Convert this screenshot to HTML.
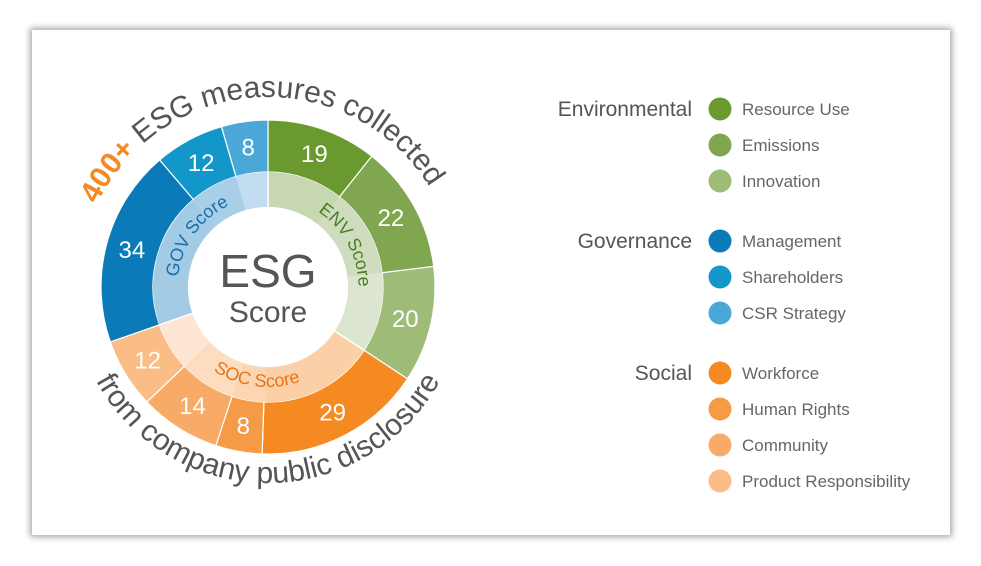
<!DOCTYPE html>
<html><head><meta charset="utf-8"><style>
html,body{margin:0;padding:0;background:#fff;}
body{width:981px;height:566px;position:relative;overflow:hidden;font-family:"Liberation Sans",sans-serif;}
#card{position:absolute;left:32px;top:30px;width:918px;height:505px;background:#fff;box-shadow:0 0 6px 2px rgba(0,0,0,0.35);}
svg{position:absolute;left:0;top:0;}
</style></head><body>
<div id="card"></div>
<svg id="chart" width="981" height="566"></svg>
<script>
const categories=["Resource Use","Emissions","Innovation","Workforce","Human Rights","Community","Product Responsibility","Management","Shareholders","CSR Strategy"];
const values=[19,22,20,29,8,14,12,34,12,8];
const pillars=["ENV","ENV","ENV","SOC","SOC","SOC","SOC","GOV","GOV","GOV"];
const outerColors=["#6a9a2f","#80a64f","#9fbb78","#f48a21","#f59b46","#f8ab66","#fbbd86","#0a7bb8","#1396ca","#4ba7d7"];
const innerColors=["#c7d7b1","#cfdcbd","#dce5cf","#fcd0a6","#fcd6b2","#fdddc0","#fee6d2","#a4cbe6","#a9cfe8","#c2ddf0"];
const pillarNames=["ENV","SOC","GOV"];
const legendGroups=["Environmental","Governance","Social"];
const legendItems=[["Resource Use","Emissions","Innovation"],["Management","Shareholders","CSR Strategy"],["Workforce","Human Rights","Community","Product Responsibility"]];
const legendColors=[["#6a9a2f","#80a64f","#9fbb78"],["#0a7bb8","#1396ca","#4ba7d7"],["#f48a21","#f59b46","#f8ab66","#fbbd86"]];

const NS="http://www.w3.org/2000/svg";
const svg=document.getElementById('chart');
const cx=268,cy=287,R1=167,R0=115,Ri=80;
const total=values.reduce((a,b)=>a+b,0);
function ang(v){return v/total*2*Math.PI;}
function pt(r,a){return [cx+r*Math.sin(a),cy-r*Math.cos(a)];}
function arcPath(r0,r1,a0,a1){
  const l=(a1-a0)>Math.PI?1:0;
  const p1=pt(r1,a0),p2=pt(r1,a1),p3=pt(r0,a1),p4=pt(r0,a0);
  return `M${p1[0]},${p1[1]}A${r1},${r1} 0 ${l} 1 ${p2[0]},${p2[1]}L${p3[0]},${p3[1]}A${r0},${r0} 0 ${l} 0 ${p4[0]},${p4[1]}Z`;
}
function mk(tag,attrs){const e=document.createElementNS(NS,tag);for(const k in attrs)e.setAttribute(k,attrs[k]);svg.appendChild(e);return e;}

let acc=0;
values.forEach((v,i)=>{
  const a0=ang(acc),a1=ang(acc+v);acc+=v;
  const o=mk('path',{d:arcPath(R0,R1,a0,a1),fill:outerColors[i],stroke:'#fff','stroke-width':1.2});
  
  
  const n=mk('path',{d:arcPath(Ri,R0,a0,a1),fill:innerColors[i],stroke:'none'});
  
  
  const m=(a0+a1)/2,p=pt((R0+R1)/2,m);
  const t=mk('text',{x:p[0],y:p[1]+8,'text-anchor':'middle','font-size':24,fill:'#fff'});
  t.textContent=values[i];
  
  
});
acc=0;
pillars.forEach((p,i)=>{
  const a=ang(acc);acc+=values[i];
  if(i===0||pillars[i-1]!==p){const q1=pt(Ri,a),q2=pt(R0,a);
    const l=mk('line',{x1:q1[0],y1:q1[1],x2:q2[0],y2:q2[1],stroke:'#fff','stroke-width':1.5});
    
    }
});
const c=mk('circle',{cx:cx,cy:cy,r:Ri,fill:'#fff'});


const t1=mk('text',{x:cx,y:cy,'text-anchor':'middle','font-size':46,fill:'#555'});t1.textContent='ESG';


const t2=mk('text',{x:cx,y:cy+35,'text-anchor':'middle','font-size':30,fill:'#555'});t2.textContent='Score';



const defs=mk('defs',{});
function addArc(id,r,a0,a1,sweep){
  const p1=pt(r,a0),p2=pt(r,a1);
  const l=Math.abs(a1-a0)>Math.PI?1:0;
  const e=document.createElementNS(NS,'path');
  e.setAttribute('id',id);e.setAttribute('d',`M${p1[0]},${p1[1]}A${r},${r} 0 ${l} ${sweep} ${p2[0]},${p2[1]}`);
  defs.appendChild(e);
}
function arcText(id,txt,size,color,name){
  const t=mk('text',{'font-size':size,fill:color});
  
  
  const tp=document.createElementNS(NS,'textPath');
  tp.setAttribute('href','#'+id);tp.setAttribute('startOffset','50%');tp.setAttribute('text-anchor','middle');
  tp.innerHTML=txt;t.appendChild(tp);return t;
}
const D=Math.PI/180;
acc=0;const spans={};
pillars.forEach((p,i)=>{if(!spans[p])spans[p]=[acc,0];acc+=values[i];spans[p][1]=acc;});
const pillarColors={ENV:'#4f7d22',GOV:'#1a6fa5',SOC:'#e8731a'};
pillarNames.forEach(p=>{
  const a0=ang(spans[p][0]),a1=ang(spans[p][1]);
  if(p==='SOC'){addArc('arc-'+p,Ri+20,a1,a0,0);}
  else{addArc('arc-'+p,(Ri+R0)/2-7,a0,a1,1);}
  arcText('arc-'+p,p+' Score',18,pillarColors[p],'pillar-label-'+p.toLowerCase());
});
addArc('arc-top',190,-70*D,64*D,1);
arcText('arc-top','<tspan fill="#f48a21" font-weight="bold">400+</tspan> ESG measures collected',30,'#555','top-arc-title');
addArc('arc-bot',196,248*D,112*D,0);
arcText('arc-bot','from company public disclosure',30,'#555','bottom-arc-title');

const rows=[[109,145,181],[241,277,313],[373,409,445,481]];
legendGroups.forEach((g,gi)=>{
  const t=mk('text',{x:692,y:rows[gi][0]+7,'text-anchor':'end','font-size':21,fill:'#555'});t.textContent=g;
  
  
  legendItems[gi].forEach((it,ii)=>{
    const y=rows[gi][ii];
    const d=mk('circle',{cx:720,cy:y,r:11.5,fill:legendColors[gi][ii]});
    
    
    const l=mk('text',{x:742,y:y+6,'font-size':17,fill:'#666'});l.textContent=it;
    
    
  });
});
</script>
</body></html>
